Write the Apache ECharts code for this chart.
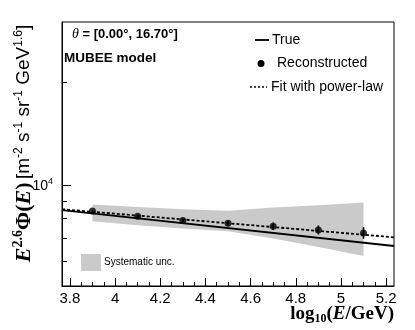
<!DOCTYPE html>
<html><head><meta charset="utf-8">
<script src="https://cdn.jsdelivr.net/npm/echarts@6/dist/echarts.min.js"></script>
<style>html,body{margin:0;padding:0;background:#fff}#c{width:415px;height:330px}</style>
</head><body><div id="c"></div>
<script>
// ---- data ----
const energyBins   = [3.9, 4.1, 4.3, 4.5, 4.7, 4.9, 5.1];
const recoValues   = [8408, 8111, 7879, 7737, 7582, 7394, 7246];
const recoErrHigh  = [8465, 8194, 7986, 7868, 7778, 7622, 7535];
const recoErrLow   = [8351, 8030, 7774, 7606, 7389, 7173, 6968];
const sysUpper     = [8779, 8638, 8504, 8418, 8602, 8736, 8898];
const sysLower     = [7842, 7632, 7464, 7330, 6978, 6594, 6206];
const trueLineX    = [3.765, 5.235];
const trueLineY    = [8446, 6637];
const fitLineX     = [3.765, 5.235];
const fitLineY     = [8504, 7038];
const xTickLabels  = [3.8, 4, 4.2, 4.4, 4.6, 4.8, 5, 5.2];
const xMinorTicks  = [3.85, 3.9, 3.95, 4.05, 4.1, 4.15, 4.25, 4.3, 4.35, 4.45, 4.5, 4.55,
                      4.65, 4.7, 4.75, 4.85, 4.9, 4.95, 5.05, 5.1, 5.15];
const yTickLabels  = [10000];
const yMinorTicks  = [6000, 7000, 8000, 9000, 20000];

const X_MIN = 3.765, X_MAX = 5.235, Y_MIN = 5070, Y_MAX = 30000;
const SANS = 'Liberation Sans, Arial, sans-serif';
const SERIF = 'Liberation Serif, Times New Roman, serif';

const chart = echarts.init(document.getElementById('c'), null, {renderer: 'canvas'});

const baseX = {type: 'value', min: X_MIN, max: X_MAX, splitLine: {show: false}};
const baseY = {type: 'log', logBase: 10, min: Y_MIN, max: Y_MAX, splitLine: {show: false}};

chart.setOption({
  animation: false,
  backgroundColor: '#fff',
  grid: {left: 62, right: 21, top: 22, bottom: 44, show: true, borderColor: '#000', borderWidth: 1,
         backgroundColor: '#fff', outerBoundsMode: 'none', containLabel: false},
  xAxis: [
    Object.assign({}, baseX, {
      position: 'bottom',
      axisLine: {show: true, lineStyle: {color: '#000', width: 1}},
      axisTick: {show: true, inside: true, length: 8, customValues: xTickLabels, lineStyle: {color: '#000', width: 1}},
      axisLabel: {show: true, customValues: xTickLabels, margin: 5, fontFamily: SANS, fontSize: 15, color: '#000',
                  formatter: v => String(v)}
    }),
    Object.assign({}, baseX, {
      position: 'bottom',
      axisLine: {show: false},
      axisTick: {show: true, inside: true, length: 4, customValues: xMinorTicks, lineStyle: {color: '#000', width: 1}},
      axisLabel: {show: false}
    })
  ],
  yAxis: [
    Object.assign({}, baseY, {
      position: 'left',
      axisLine: {show: true, lineStyle: {color: '#000', width: 1}},
      axisTick: {show: true, inside: true, length: 9, customValues: yTickLabels, lineStyle: {color: '#000', width: 1}},
      axisLabel: {show: true, customValues: yTickLabels, margin: 9, color: '#000',
        formatter: v => '{b|10}{s|' + Math.round(Math.log10(v)) + '}',
        rich: {b: {fontFamily: SANS, fontSize: 14, color: '#000', padding: [3, 0, 0, 0]},
               s: {fontFamily: SANS, fontSize: 9, color: '#000', padding: [0, 0, 8, 0]}}}
    }),
    Object.assign({}, baseY, {
      position: 'left',
      axisLine: {show: false},
      axisTick: {show: true, inside: true, length: 5, customValues: yMinorTicks, lineStyle: {color: '#000', width: 1}},
      axisLabel: {show: false}
    })
  ],
  series: [
    {
      name: 'Systematic unc.', type: 'custom', xAxisIndex: 0, yAxisIndex: 0, z: 1, silent: true,
      data: energyBins.map((x, i) => [x, sysUpper[i], sysLower[i]]),
      renderItem: function (params, api) {
        if (params.dataIndex !== 0) return null;
        const pts = [];
        for (let i = 0; i < energyBins.length; i++) pts.push(api.coord([energyBins[i], sysUpper[i]]));
        for (let i = energyBins.length - 1; i >= 0; i--) pts.push(api.coord([energyBins[i], sysLower[i]]));
        return {type: 'polygon', shape: {points: pts}, style: {fill: '#cacaca', stroke: null}};
      }
    },
    {
      name: 'True', type: 'line', xAxisIndex: 0, yAxisIndex: 0, z: 3, symbol: 'none',
      data: trueLineX.map((x, i) => [x, trueLineY[i]]),
      lineStyle: {color: '#000', width: 1.8}
    },
    {
      name: 'Fit with power-law', type: 'line', xAxisIndex: 0, yAxisIndex: 0, z: 3, symbol: 'none',
      data: fitLineX.map((x, i) => [x, fitLineY[i]]),
      lineStyle: {color: '#000', width: 1.8, type: [3, 2]}
    },
    {
      name: 'errors', type: 'custom', xAxisIndex: 0, yAxisIndex: 0, z: 4, silent: true,
      data: energyBins.map((x, i) => [x, recoErrLow[i], recoErrHigh[i]]),
      renderItem: function (params, api) {
        const p1 = api.coord([api.value(0), api.value(1)]);
        const p2 = api.coord([api.value(0), api.value(2)]);
        return {type: 'line', shape: {x1: p1[0], y1: p1[1], x2: p2[0], y2: p2[1]},
                style: {stroke: '#000', lineWidth: 1.6}};
      }
    },
    {
      name: 'Reconstructed', type: 'scatter', xAxisIndex: 0, yAxisIndex: 0, z: 5,
      symbol: 'circle', symbolSize: 7,
      data: energyBins.map((x, i) => [x, recoValues[i]]),
      itemStyle: {color: '#000'}
    }
  ],
  graphic: [
    // Y axis title
    {type: 'text', x: 24, y: 143.5, rotation: Math.PI / 2, z: 10,
     style: {text: '{e|E}{es|2.6}{p|Φ(}{e|E}{p|)} {n|[m}{ns|-2}{n| s}{ns|-1}{n| sr}{ns|-1}{n| GeV}{ns|1.6}{n|]}',
       align: 'center', verticalAlign: 'middle',
       rich: {
         e: {fontFamily: SERIF, fontWeight: 'bold', fontStyle: 'italic', fontSize: 22, fill: '#000'},
         p: {fontFamily: SERIF, fontWeight: 'bold', fontSize: 22, fill: '#000'},
         es: {fontFamily: SERIF, fontWeight: 'bold', fontSize: 14, fill: '#000', padding: [0, 0, 12, 0]},
         n: {fontFamily: SANS, fontSize: 19, fill: '#000'},
         ns: {fontFamily: SANS, fontSize: 12, fill: '#000', padding: [0, 0, 11, 0]}
       }}},
    // X axis title
    {type: 'text', x: 394, y: 314, z: 10,
     style: {text: '{b|log}{sub|10}{b|(}{e|E}{b|/GeV)}', align: 'right', verticalAlign: 'middle',
       rich: {
         b: {fontFamily: SERIF, fontWeight: 'bold', fontSize: 19, fill: '#000'},
         e: {fontFamily: SERIF, fontWeight: 'bold', fontStyle: 'italic', fontSize: 19, fill: '#000'},
         sub: {fontFamily: SERIF, fontWeight: 'bold', fontSize: 12, fill: '#000', padding: [10, 0, 0, 0]}
       }}},
    // annotations
    {type: 'text', x: 72, y: 34, z: 10,
     style: {text: '{t|θ}{b| = [0.00°, 16.70°]}', verticalAlign: 'middle',
       rich: {t: {fontFamily: SERIF, fontStyle: 'italic', fontSize: 14, fill: '#000'},
              b: {fontFamily: SANS, fontWeight: 'bold', fontSize: 13, fill: '#000'}}}},
    {type: 'text', x: 64, y: 58.5, z: 10,
     style: {text: 'MUBEE model', verticalAlign: 'middle', fontFamily: SANS, fontWeight: 'bold', fontSize: 13.5, fill: '#000'}},
    // legend
    {type: 'line', z: 10, shape: {x1: 255, y1: 40, x2: 269, y2: 40}, style: {stroke: '#000', lineWidth: 1.8}},
    {type: 'text', x: 272, y: 40, z: 10, style: {text: 'True', verticalAlign: 'middle', fontFamily: SANS, fontSize: 14, fill: '#000'}},
    {type: 'circle', z: 10, shape: {cx: 261, cy: 63.5, r: 3.5}, style: {fill: '#000'}},
    {type: 'text', x: 277, y: 63.5, z: 10, style: {text: 'Reconstructed', verticalAlign: 'middle', fontFamily: SANS, fontSize: 14, fill: '#000'}},
    {type: 'line', z: 10, shape: {x1: 250, y1: 87, x2: 267, y2: 87}, style: {stroke: '#000', lineWidth: 1.5, lineDash: [2, 2]}},
    {type: 'text', x: 271, y: 87, z: 10, style: {text: 'Fit with power-law', verticalAlign: 'middle', fontFamily: SANS, fontSize: 14, fill: '#000'}},
    // systematic legend box
    {type: 'rect', z: 10, shape: {x: 81, y: 254, width: 20, height: 17}, style: {fill: '#cacaca'}},
    {type: 'text', x: 104, y: 262, z: 10, style: {text: 'Systematic unc.', verticalAlign: 'middle', fontFamily: SANS, fontSize: 10, fill: '#000'}}
  ]
});
</script>
</body></html>
